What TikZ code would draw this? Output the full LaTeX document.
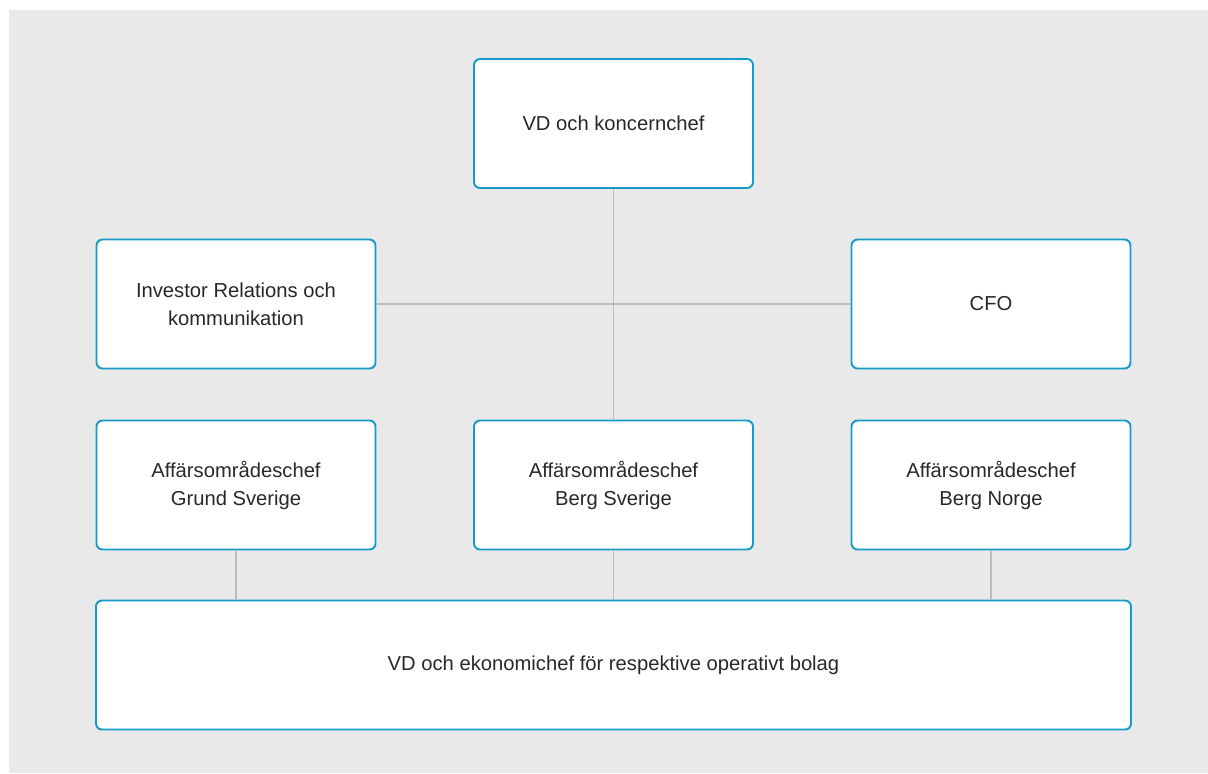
\documentclass[tikz,border=0pt]{standalone}
\usepackage{fontspec}
\setmainfont{Liberation Sans}
\definecolor{orgbg}{RGB}{233,233,233}
\definecolor{orgblue}{RGB}{22,155,198}
\definecolor{orggray}{RGB}{187,187,187}
\definecolor{orgtext}{RGB}{40,40,40}
\usetikzlibrary{positioning,calc}

\begin{document}
\begin{tikzpicture}[every node/.style={font=\fontsize{11.5}{16}\selectfont, text=orgtext},
  bx/.style={rounded corners=0.12cm, draw=orgblue, fill=white, minimum width=5.58cm, minimum height=2.58cm, align=center, line width=1.1pt},
  ln/.style={draw=orggray, line width=0.8pt}]
% Background
\useasboundingbox (0,0) rectangle (24.16,-15.46);
\fill[orgbg] (0.18,-0.2) rectangle (24.16,-15.46);
% Group management
\node[bx] (ceo) at (12.27,-2.47) {VD och koncernchef};
\node[bx] (ir) at (4.72,-6.08) {Investor Relations och\\kommunikation};
\node[bx] (cfo) at (19.82,-6.08) {CFO};
% Business areas
\node[bx] (grund) at (4.72,-9.70) {Affärsområdeschef\\Grund Sverige};
\node[bx] (bergse) at (12.27,-9.70) {Affärsområdeschef\\Berg Sverige};
\node[bx] (bergno) at (19.82,-9.70) {Affärsområdeschef\\Berg Norge};
% Operating companies
\node[bx, minimum width=20.7cm] (ops) at (12.27,-13.30) {VD och ekonomichef för respektive operativt bolag};
% Lines
\draw[ln] (ceo.south) -- (bergse.north);
\draw[ln] (ir.east) -- (cfo.west);
\draw[ln] (grund.south) -- (grund.south |- ops.north);
\draw[ln] (bergse.south) -- (bergse.south |- ops.north);
\draw[ln] (bergno.south) -- (bergno.south |- ops.north);
\end{tikzpicture}
\end{document}
